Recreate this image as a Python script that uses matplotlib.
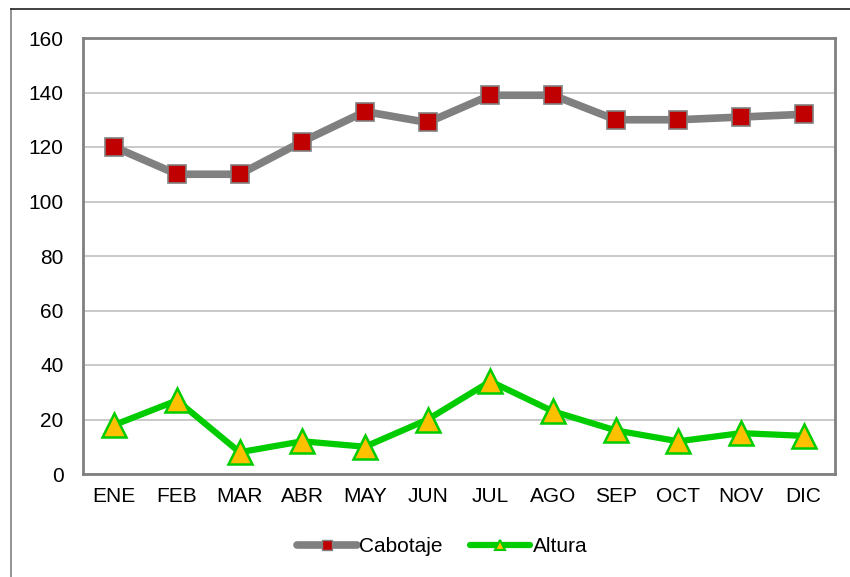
import matplotlib.pyplot as plt
from matplotlib.lines import Line2D

plt.rcParams["font.family"] = ["Liberation Sans", "DejaVu Sans"]

months = ["ENE", "FEB", "MAR", "ABR", "MAY", "JUN",
          "JUL", "AGO", "SEP", "OCT", "NOV", "DIC"]
cabotaje = [120, 110, 110, 122, 133, 129, 139, 139, 130, 130, 131, 132]
altura = [18, 27, 8, 12, 10, 20, 34, 23, 16, 12, 15, 14]
yticks = [0, 20, 40, 60, 80, 100, 120, 140, 160]

fig = plt.figure(figsize=(8.5, 5.77), dpi=100)
ax = fig.add_axes([83 / 850, 1 - 474 / 577, 752 / 850, 436 / 577])

x = range(len(months))
ax.plot(x, cabotaje, color="#808080", lw=5.5, marker="s", ms=13.5,
        mfc="#c00000", mec="#808080", mew=1.2, label="Cabotaje", zorder=3)
ax.plot(x, altura, color="#00cc00", lw=4.5, marker="^", ms=17,
        mfc="#ffc000", mec="#00cc00", mew=1.8, label="Altura", zorder=3)

ax.set_xlim(-0.5, len(months) - 0.5)
ax.set_ylim(0, 160)
ax.set_yticks(yticks)
ax.set_xticks(list(x))
ax.set_xticklabels(months)
ax.tick_params(axis="both", length=0, labelsize=15)
ax.tick_params(axis="y", pad=14)
ax.tick_params(axis="x", pad=9)
ax.grid(axis="y", color="#c0c0c0", lw=1.2)
ax.set_axisbelow(True)
for s in ax.spines.values():
    s.set_color("#808080")
    s.set_linewidth(2)

# outer chart frame (cropped at right and bottom)
fig.add_artist(Line2D([11 / 850, 11 / 850], [0, 1 - 9 / 577],
                      transform=fig.transFigure, color="#808080", lw=1.2))
fig.add_artist(Line2D([11 / 850, 1], [1 - 9 / 577, 1 - 9 / 577],
                      transform=fig.transFigure, color="#202020", lw=1.2))

handles = [
    Line2D([], [], color="#808080", lw=5.5, marker="s", ms=7,
           mfc="#c00000", mec="#808080", mew=1, solid_capstyle="round"),
    Line2D([], [], color="#00cc00", lw=4.5, marker="^", ms=7,
           mfc="#ffc000", mec="#00cc00", mew=1.5, solid_capstyle="round"),
]
fig.legend(handles, ["Cabotaje", "Altura"], loc="center",
           bbox_to_anchor=(0.52, 1 - 547 / 577), ncol=2, frameon=False,
           fontsize=15, handlelength=2.9, handletextpad=0.1,
           columnspacing=1.3)

fig.savefig("out.png", dpi=100)
